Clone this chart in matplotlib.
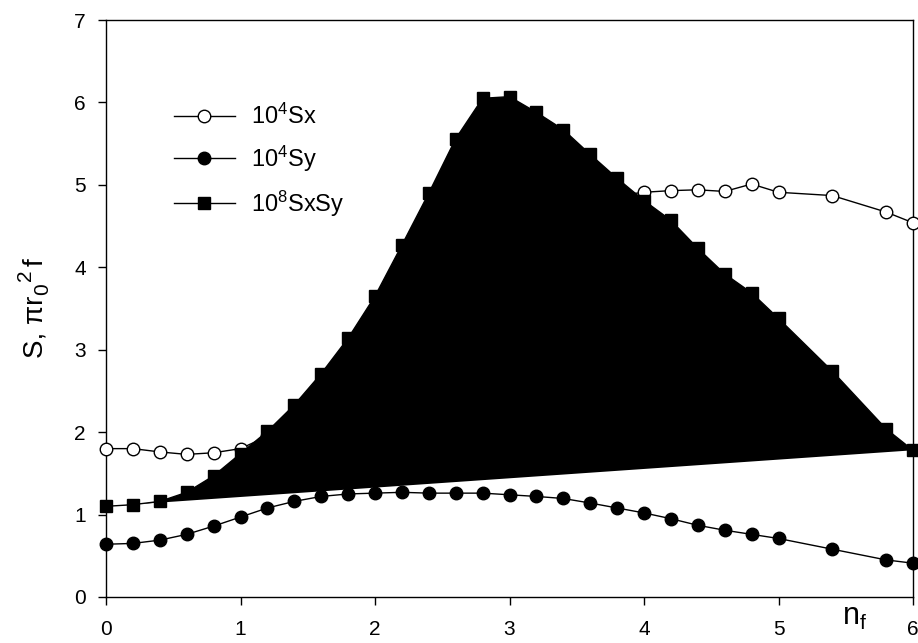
import matplotlib
matplotlib.use("Agg")
import matplotlib.pyplot as plt

plt.rcParams['font.family'] = ['Liberation Sans', 'DejaVu Sans']
plt.rcParams['mathtext.fontset'] = 'custom'
plt.rcParams['mathtext.rm'] = 'Liberation Sans'
plt.rcParams['mathtext.it'] = 'Liberation Sans'

W, H = 918, 643

# n_f grid
nf = [0.0, 0.2, 0.4, 0.6, 0.8, 1.0, 1.2, 1.4, 1.6, 1.8, 2.0, 2.2, 2.4, 2.6,
      2.8, 3.0, 3.2, 3.4, 3.6, 3.8, 4.0, 4.2, 4.4, 4.6, 4.8, 5.0, 5.4, 5.8, 6.0]

# 10^4 Sx (points between 1.2 and 3.8 sit under the black area, estimated)
sx = [1.80, 1.80, 1.76, 1.73, 1.75, 1.80, 1.95, 2.15, 2.40, 2.70, 3.00, 3.35,
      3.70, 4.00, 4.25, 4.45, 4.60, 4.72, 4.80, 4.87, 4.91, 4.93, 4.94, 4.92,
      5.01, 4.91, 4.87, 4.67, 4.54]

# 10^4 Sy
sy = [0.64, 0.65, 0.69, 0.76, 0.86, 0.97, 1.08, 1.16, 1.22, 1.25, 1.26, 1.27,
      1.26, 1.26, 1.26, 1.24, 1.22, 1.195, 1.14, 1.08, 1.02, 0.95, 0.87, 0.81,
      0.76, 0.71, 0.58, 0.45, 0.41]

# 10^8 SxSy
sxsy = [1.10, 1.12, 1.16, 1.27, 1.47, 1.74, 2.01, 2.33, 2.71, 3.14, 3.65, 4.27,
        4.90, 5.56, 6.05, 6.07, 5.88, 5.67, 5.37, 5.08, 4.81, 4.57, 4.23, 3.92,
        3.69, 3.38, 2.74, 2.04, 1.78]

labels = [r'10$^4$Sx', r'10$^4$Sy', r'10$^8$SxSy']

fig = plt.figure(figsize=(W / 100, H / 100), dpi=100)
ax = fig.add_axes([106 / W, 46 / H, 807 / W, 577 / H])

ms = 9
ax.plot(nf, sx, '-o', color='black', lw=1.0, ms=ms, mfc='white', mec='black',
        mew=1.0, clip_on=False, label=labels[0], zorder=3)
ax.plot(nf, sy, '-o', color='black', lw=1.0, ms=ms, mfc='black', mec='black',
        clip_on=False, label=labels[1], zorder=3)
# SxSy curve drawn as a filled polygon (closes back to the first point)
ax.fill(nf, sxsy, color='black', lw=0, zorder=4)
ax.plot(nf, sxsy, '-s', color='black', lw=1.0, ms=ms, mfc='black', mec='black',
        clip_on=False, label=labels[2], zorder=5)

ax.set_xlim(0, 6)
ax.set_ylim(0, 7)
ax.set_xticks(range(0, 7))
ax.set_yticks(range(0, 8))
ax.tick_params(axis='both', direction='out', length=6, width=1.0, labelsize=15)
ax.tick_params(axis='x', pad=10.5)
ax.tick_params(axis='y', pad=8.5)
ax.tick_params(top=False, right=False)
for s in ax.spines.values():
    s.set_linewidth(1.0)

ax.text(5.47, -0.34, r'n$_\mathrm{f}$', fontsize=22, ha='left', va='baseline',
        clip_on=False)

ax.legend(loc='upper left', bbox_to_anchor=(0.084, 0.855), frameon=False,
          fontsize=17, handlelength=2.6, handletextpad=0.65, labelspacing=0.62,
          borderpad=0, borderaxespad=0)


def rotated_label(x_px, y_px, parts):
    # y label built piece by piece: (text, size, shift off baseline, gap before)
    r = fig.canvas.get_renderer()
    pos = y_px
    for s, size, rise, gap in parts:
        pos += gap
        t = fig.text((x_px - rise) / W, pos / H, s, fontsize=size, rotation=90,
                     rotation_mode='anchor', ha='left', va='baseline')
        pos += t.get_window_extent(r).height


rotated_label(43, H - 358, [('S, \u03c0r', 20, 0, 0), ('0', 15, -5, 1),
                            ('2', 15, 12, 2), ('f', 20, 0, 3)])

fig.savefig('out.png', dpi=100)
